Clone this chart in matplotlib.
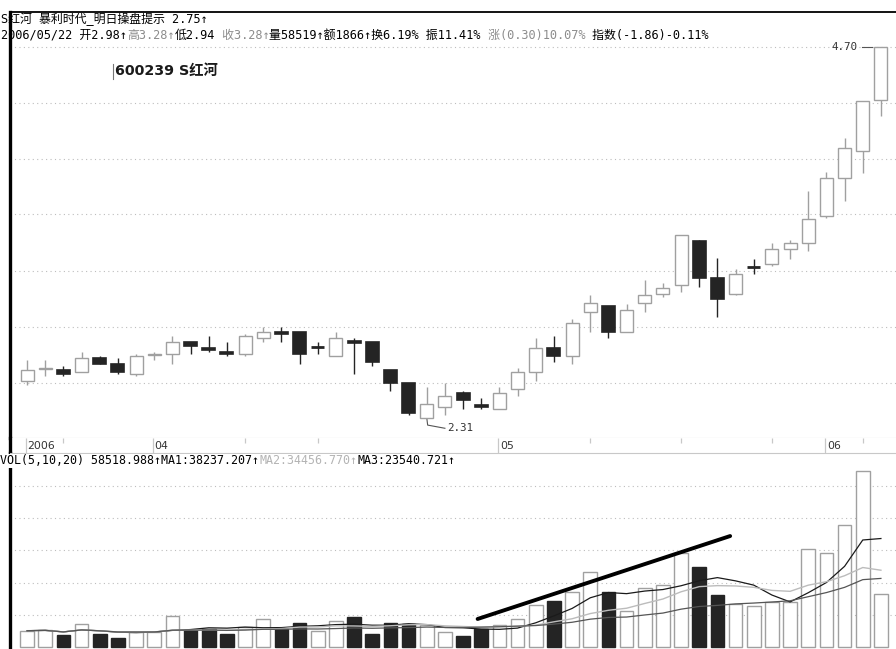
# S红河 daily K-line + volume chart (通达信 style)
import numpy as np
import pandas as pd
import matplotlib
matplotlib.use("Agg")
import matplotlib.pyplot as plt
from matplotlib.transforms import IdentityTransform
from matplotlib.lines import Line2D

plt.rcParams['font.family'] = ['DejaVu Sans Mono', 'Noto Sans CJK SC']

# ---- data ----
opens  = [2.48, 2.535, 2.53, 2.52, 2.59, 2.56, 2.51, 2.605, 2.61, 2.67,
          2.64, 2.62, 2.61, 2.69, 2.72, 2.72, 2.645, 2.60, 2.675, 2.67,
          2.53, 2.47, 2.31, 2.36, 2.42, 2.365, 2.35, 2.44, 2.52, 2.64,
          2.60, 2.83, 2.86, 2.72, 2.88, 2.93, 2.98, 3.24, 3.02, 2.93,
          3.085, 3.10, 3.19, 3.23, 3.40, 3.66, 3.85, 4.25]
highs  = [2.58, 2.58, 2.55, 2.62, 2.60, 2.59, 2.61, 2.62, 2.70, 2.67,
          2.70, 2.67, 2.71, 2.75, 2.75, 2.72, 2.67, 2.72, 2.69, 2.67,
          2.53, 2.47, 2.45, 2.47, 2.43, 2.40, 2.45, 2.54, 2.69, 2.70,
          2.79, 2.92, 2.86, 2.87, 3.01, 2.99, 3.28, 3.25, 3.14, 3.07,
          3.13, 3.23, 3.25, 3.57, 3.70, 3.95, 4.24, 4.70]
lows   = [2.46, 2.50, 2.50, 2.52, 2.56, 2.51, 2.50, 2.58, 2.56, 2.61,
          2.62, 2.60, 2.60, 2.67, 2.67, 2.56, 2.61, 2.60, 2.51, 2.55,
          2.43, 2.32, 2.31, 2.32, 2.35, 2.35, 2.35, 2.41, 2.48, 2.57,
          2.56, 2.72, 2.69, 2.72, 2.83, 2.91, 2.94, 2.97, 2.80, 2.92,
          3.04, 3.09, 3.13, 3.18, 3.39, 3.50, 3.69, 4.12]
closes = [2.53, 2.54, 2.51, 2.59, 2.56, 2.52, 2.60, 2.61, 2.67, 2.65,
          2.63, 2.61, 2.70, 2.72, 2.71, 2.61, 2.645, 2.69, 2.665, 2.57,
          2.47, 2.33, 2.37, 2.41, 2.39, 2.36, 2.42, 2.52, 2.64, 2.60,
          2.77, 2.88, 2.72, 2.84, 2.92, 2.96, 3.28, 3.02, 2.90, 3.04,
          3.085, 3.19, 3.23, 3.38, 3.66, 3.87, 4.24, 4.70]
volumes = [10120, 10560, 7450, 14280, 7890, 5780, 9320, 9320, 19250, 10560,
           11180, 8260, 12610, 17200, 10990, 15090, 9940, 16330, 18440, 7890,
           15090, 14470, 13660, 9500, 7020, 10990, 13660, 17570, 25900, 28570,
           33970, 46760, 33970, 22360, 36640, 38690, 58519, 49490, 32110, 26520,
           25460, 27760, 28130, 60670, 58190, 75760, 109480, 32730]

month_idx = [0, 7, 26, 44]
month_labels = ["2006", "04", "05", "06"]
week_idx = [2, 12, 16, 31, 36, 41, 46]
grid_prices = [4.70, 4.22, 3.79, 3.41, 3.06, 2.75, 2.47]
grid_vols = [20000, 40000, 60000, 80000, 100000]
trend_x = [24.8, 38.7]
trend_v = [17400, 68900]

title = "600239 S红河"
line1 = [("S红河 暴利时代_明日操盘提示 2.75↑", 'k')]
line2 = [("2006/05/22 开2.98↑", 'k'), ("高3.28↑", '#8c8c8c'), ("低2.94", 'k'),
         (" 收3.28↑", '#8c8c8c'), ("量58519↑额1866↑换6.19% 振11.41%", 'k'),
         (" 涨(0.30)10.07%", '#8c8c8c'), (" 指数(-1.86)-0.11%", 'k')]
line_vol = [("VOL(5,10,20) 58518.988↑MA1:38237.207↑", 'k'),
            ("MA2:34456.770↑", '#b4b4b4'), ("MA3:23540.721↑", 'k')]

o = np.array(opens); h = np.array(highs); l = np.array(lows); c = np.array(closes)
v = np.array(volumes)
n = len(o)
x = np.arange(n)

GRAY = '#a0a0a0'
DARK = '#242424'
GRID = '#bdbdbd'
EDGE = '#c8c8c8'
W, H = 896, 649

fig = plt.figure(figsize=(W / 100, H / 100), dpi=100)
fig.patch.set_facecolor('white')

def rect(x0, y0, x1, y1):
    return [x0 / W, 1 - y1 / H, (x1 - x0) / W, (y1 - y0) / H]

ax = fig.add_axes(rect(10, 12, 896, 438))
axd = fig.add_axes(rect(10, 438, 896, 453))
axv = fig.add_axes(rect(10, 453, 896, 649))
xlim = (-0.94, 47.83)

for a in (ax, axd, axv):
    a.set_xlim(*xlim)
    a.set_xticks([])
    a.set_yticks([])
    for s in a.spines.values():
        s.set_visible(False)
    a.spines['left'].set_visible(True)
    a.spines['left'].set_color('black')
    a.spines['left'].set_linewidth(2.4)

# ---- price panel ----
ax.set_yscale('log')
ax.set_ylim(2.222, 5.026)
ax.minorticks_off()
ax.set_yticks([])
ax.spines['top'].set_visible(True)
ax.spines['top'].set_color('black')
ax.spines['top'].set_linewidth(1.3)
ax.spines['bottom'].set_visible(True)
ax.spines['bottom'].set_color(EDGE)
for g in grid_prices:
    ax.axhline(g, color=GRID, ls=(0, (1, 3)), lw=0.8, zorder=1)

up = c > o
dn = c < o
flat = c == o
bw = 0.72
bot = np.minimum(o, c)
bh = np.abs(c - o)

ax.vlines(x[up], l[up], h[up], color=GRAY, lw=1.0, zorder=2)
ax.bar(x[up], bh[up], bottom=bot[up], width=bw, facecolor='white',
       edgecolor=GRAY, lw=1.0, zorder=3)
ax.vlines(x[dn | flat], l[dn | flat], h[dn | flat], color=DARK, lw=1.0, zorder=2)
ax.bar(x[dn], bh[dn], bottom=bot[dn], width=bw, facecolor=DARK,
       edgecolor=DARK, lw=1.2, zorder=3)
ax.hlines(c[flat], x[flat] - bw / 2, x[flat] + bw / 2, color=DARK, lw=2.0, zorder=3)

# high / low marks
hi_i = int(np.argmax(h))
lo_i = int(np.argmin(l))
ax.plot([hi_i - 1.05, hi_i - 0.5], [h[hi_i], h[hi_i]], color='#555555', lw=0.8)
ax.text(hi_i - 1.3, h[hi_i], f"{h[hi_i]:.2f}", ha='right', va='center',
        fontsize=7.8, color='#333333')
ax.plot([lo_i, lo_i + 0.05, lo_i + 1.0], [l[lo_i], l[lo_i] * 0.986, l[lo_i] * 0.980],
        color='#555555', lw=0.8)
ax.text(lo_i + 1.1, l[lo_i] * 0.980, f"{l[lo_i]:.2f}", ha='left', va='center',
        fontsize=7.8, color='#333333')

# ---- date strip ----
axd.set_ylim(0, 1)
for i, lab in zip(month_idx, month_labels):
    axd.vlines(i - 0.08, 0, 1, color=EDGE, lw=0.9)
    axd.text(i + 0.02, 0.45, lab, ha='left', va='center', fontsize=7.8,
             family=['DejaVu Sans'], color='#333333')
axd.vlines(week_idx, 0.7, 1, color=EDGE, lw=0.9)

# ---- volume panel ----
axv.set_ylim(-1242, 120470)
axv.spines['top'].set_visible(True)
axv.spines['top'].set_color(EDGE)
for g in grid_vols:
    axv.axhline(g, color=GRID, ls=(0, (1, 3)), lw=0.8, zorder=1)
vup = c >= o
axv.bar(x[vup], v[vup], width=bw + 0.04, facecolor='white', edgecolor=GRAY, lw=1.0, zorder=2)
axv.bar(x[~vup], v[~vup], width=bw + 0.04, facecolor=DARK, edgecolor=DARK, lw=1.0, zorder=2)
vs = pd.Series(v, dtype=float)
axv.plot(x, vs.rolling(5, min_periods=1).mean(), color='#1a1a1a', lw=0.9, zorder=4)
axv.plot(x, vs.rolling(10, min_periods=1).mean(), color='#bcbcbc', lw=1.0, zorder=4)
axv.plot(x, vs.rolling(20, min_periods=1).mean(), color='#555555', lw=0.9, zorder=4)
axv.plot(trend_x, trend_v, color='black', lw=2.8, solid_capstyle='round', zorder=5)

# ---- texts ----
renderer = fig.canvas.get_renderer()

def draw_parts(x0, y0, parts, size, **kw):
    xx = x0
    for s, col in parts:
        t = fig.text(xx, H - y0, s, color=col, fontsize=size, ha='left', va='center',
                     transform=IdentityTransform(), **kw)
        xx = t.get_window_extent(renderer).x1

draw_parts(1, 19, line1, 8.6)
draw_parts(1, 35, line2, 8.6)
draw_parts(0, 461, line_vol, 8.4,
           bbox=dict(facecolor='white', edgecolor='none', pad=0.6))

fig.text(115 / W, 1 - 71 / H, title, ha='left', va='center', fontsize=10.3,
         fontweight='bold', family=['DejaVu Sans', 'Noto Sans CJK SC'], color='#1a1a1a')
fig.add_artist(Line2D([113 / W, 113 / W], [1 - 64 / H, 1 - 79 / H], color='#777777', lw=0.8))

fig.savefig("out.png", dpi=100)
